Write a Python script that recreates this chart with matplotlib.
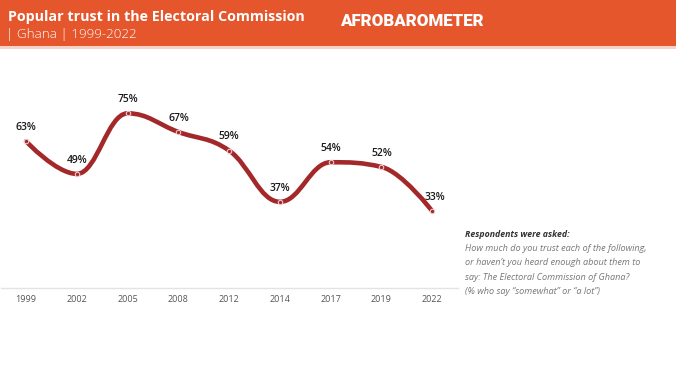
import matplotlib
matplotlib.use("Agg")
import matplotlib.pyplot as plt
import numpy as np
from matplotlib.path import Path
from matplotlib.patches import PathPatch, Rectangle

years = ["1999", "2002", "2005", "2008", "2012", "2014", "2017", "2019", "2022"]
trust = [63, 49, 75, 67, 59, 37, 54, 52, 33]

title = "Popular trust in the Electoral Commission"
subtitle = "| Ghana | 1999-2022"
note_head = "Respondents were asked:"
note_lines = ["How much do you trust each of the following,",
              "or haven\u2019t you heard enough about them to",
              "say: The Electoral Commission of Ghana?",
              "(% who say \u201csomewhat\u201d or \u201ca lot\u201d)"]

ORANGE = "#E5562C"
LINE = "#A3282A"

plt.rcParams['font.family'] = ['Open Sans', 'DejaVu Sans']


def spline_path(xs, ys, smoothing=1.5):
    # bezier spline through the points, Highcharts style
    n = len(xs)
    verts = [(xs[0], ys[0])]
    codes = [Path.MOVETO]
    right = [(xs[0], ys[0])]
    left = [None]
    for i in range(1, n - 1):
        px, py = xs[i], ys[i]
        lx, ly = xs[i - 1], ys[i - 1]
        nx, ny = xs[i + 1], ys[i + 1]
        d = smoothing + 1
        lcx, lcy = (smoothing * px + lx) / d, (smoothing * py + ly) / d
        rcx, rcy = (smoothing * px + nx) / d, (smoothing * py + ny) / d
        if rcx != lcx:
            corr = (rcy - lcy) * (rcx - px) / (rcx - lcx) + py - rcy
            lcy += corr
            rcy += corr
        if lcy > ly and lcy > py:
            lcy = max(ly, py)
            rcy = 2 * py - lcy
        elif lcy < ly and lcy < py:
            lcy = min(ly, py)
            rcy = 2 * py - lcy
        if rcy > ny and rcy > py:
            rcy = max(ny, py)
            lcy = 2 * py - rcy
        elif rcy < ny and rcy < py:
            rcy = min(ny, py)
            lcy = 2 * py - rcy
        left.append((lcx, lcy))
        right.append((rcx, rcy))
    left.append((xs[-1], ys[-1]))
    for i in range(1, n):
        verts += [right[i - 1], left[i], (xs[i], ys[i])]
        codes += [Path.CURVE4] * 3
    return Path(verts, codes)


fig = plt.figure(figsize=(6.76, 3.8), dpi=100)
fig.patch.set_facecolor("white")

# header band
fig.patches.append(Rectangle((0, 0.88), 1, 0.12, transform=fig.transFigure,
                             facecolor=ORANGE, edgecolor="none", zorder=0))
fig.patches.append(Rectangle((0, 0.872), 1, 0.008, transform=fig.transFigure,
                             facecolor="#F6D3C6", edgecolor="none", zorder=0))
fig.text(0.012, 0.956, title, color="white", fontsize=10.3, fontweight="bold",
         va="center", ha="left")
fig.text(0.009, 0.908, subtitle, color="white", fontsize=9.6, fontweight="light",
         va="center", ha="left")
fig.text(0.503, 0.944, "AFROBAROMETER", color="white", fontsize=12.2,
         fontweight="heavy", va="center", ha="left", family=["Roboto", "DejaVu Sans"])

ax = fig.add_axes([0.001, 0.242, 0.676, 0.613])
x = np.arange(len(years))
path = spline_path(list(x.astype(float)), list(map(float, trust)))
ax.add_patch(PathPatch(path, facecolor="none", edgecolor=LINE, lw=3.3,
                       capstyle="round", joinstyle="round", zorder=2))
ax.plot(x, trust, linestyle="none", marker="o", ms=3.2, mfc=LINE,
        mec="#F2C9C9", mew=0.8, zorder=3)
for xi, v in zip(x, trust):
    dx = 0.06 if xi == len(years) - 1 else 0
    ax.annotate(f"{v}%", (xi + dx, v), xytext=(0, 6), textcoords="offset points",
                ha="center", va="bottom", fontsize=7.5, fontweight="semibold",
                color="#1a1a1a", zorder=4)

ax.set_xlim(-0.5, len(years) - 0.5)
ax.set_ylim(0, 100)
ax.set_xticks(x)
ax.set_xticklabels(years, fontsize=6.5, color="#555555")
ax.set_yticks([])
ax.tick_params(axis="x", length=0, pad=5)
for s in ["top", "right", "left"]:
    ax.spines[s].set_visible(False)
ax.spines["bottom"].set_color("#E3E3E3")
ax.spines["bottom"].set_linewidth(1)

fig.text(0.688, 0.382, note_head, fontsize=6.3, fontweight="bold", style="italic",
         color="#333333", va="center", ha="left")
for i, line in enumerate(note_lines):
    fig.text(0.688, 0.345 - i * 0.037, line, fontsize=6.6, style="italic",
             color="#777777", va="center", ha="left")

fig.savefig("out.png", dpi=100)
